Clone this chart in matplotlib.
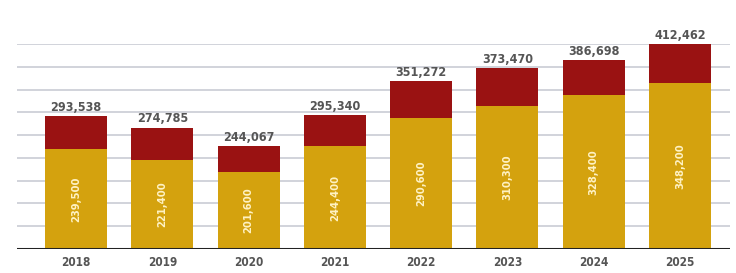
import matplotlib.pyplot as plt
import numpy as np

years = ['2018', '2019', '2020', '2021', '2022', '2023', '2024', '2025']
totals = [293538, 274785, 244067, 295340, 351272, 373470, 386698, 412462]
base = [239500, 221400, 201600, 244400, 290600, 310300, 328400, 348200]
top_part = [t - b for t, b in zip(totals, base)]
total_labels = ['293,538', '274,785', '244,067', '295,340', '351,272', '373,470', '386,698', '412,462']
base_labels = ['239,500', '221,400', '201,600', '244,400', '290,600', '310,300', '328,400', '348,200']

yellow = '#D4A20E'
red = '#9A1212'

plt.rcParams['font.family'] = ['DejaVu Sans']
plt.rcParams['font.stretch'] = 'condensed'

fig = plt.figure(figsize=(7.36, 2.73), dpi=100)
ax = fig.add_axes([17/736, 1 - 249/273, (730 - 17)/736, (249 - 44)/273])

x = np.arange(len(years))
ax.bar(x, base, width=0.72, color=yellow, zorder=2)
ax.bar(x, top_part, bottom=base, width=0.72, color=red, zorder=2)

ymin, ymax = 74800, 412500
for g in np.linspace(ymin, ymax, 10)[1:]:
    ax.axhline(g, color='#c9ccd4', lw=1.2, zorder=1)
ax.axhline(ymin, color='#222222', lw=2.2, zorder=3)

for i in range(len(years)):
    ax.text(x[i], totals[i] + 3500, total_labels[i], ha='center', va='bottom',
            fontsize=9, fontweight='bold', color='#555555')
    ax.text(x[i], (ymin + base[i]) / 2, base_labels[i], ha='center', va='center',
            rotation=90, fontsize=8, fontweight='bold', color='#fff2c4', zorder=4)
    ax.text(x[i], ymin - 12000, years[i], ha='center', va='top',
            fontsize=8.5, fontweight='bold', color='#555555')

ax.set_xlim(-0.684, 7.58)
ax.set_ylim(ymin, ymax)
ax.axis('off')

fig.savefig('out.png', dpi=100)
